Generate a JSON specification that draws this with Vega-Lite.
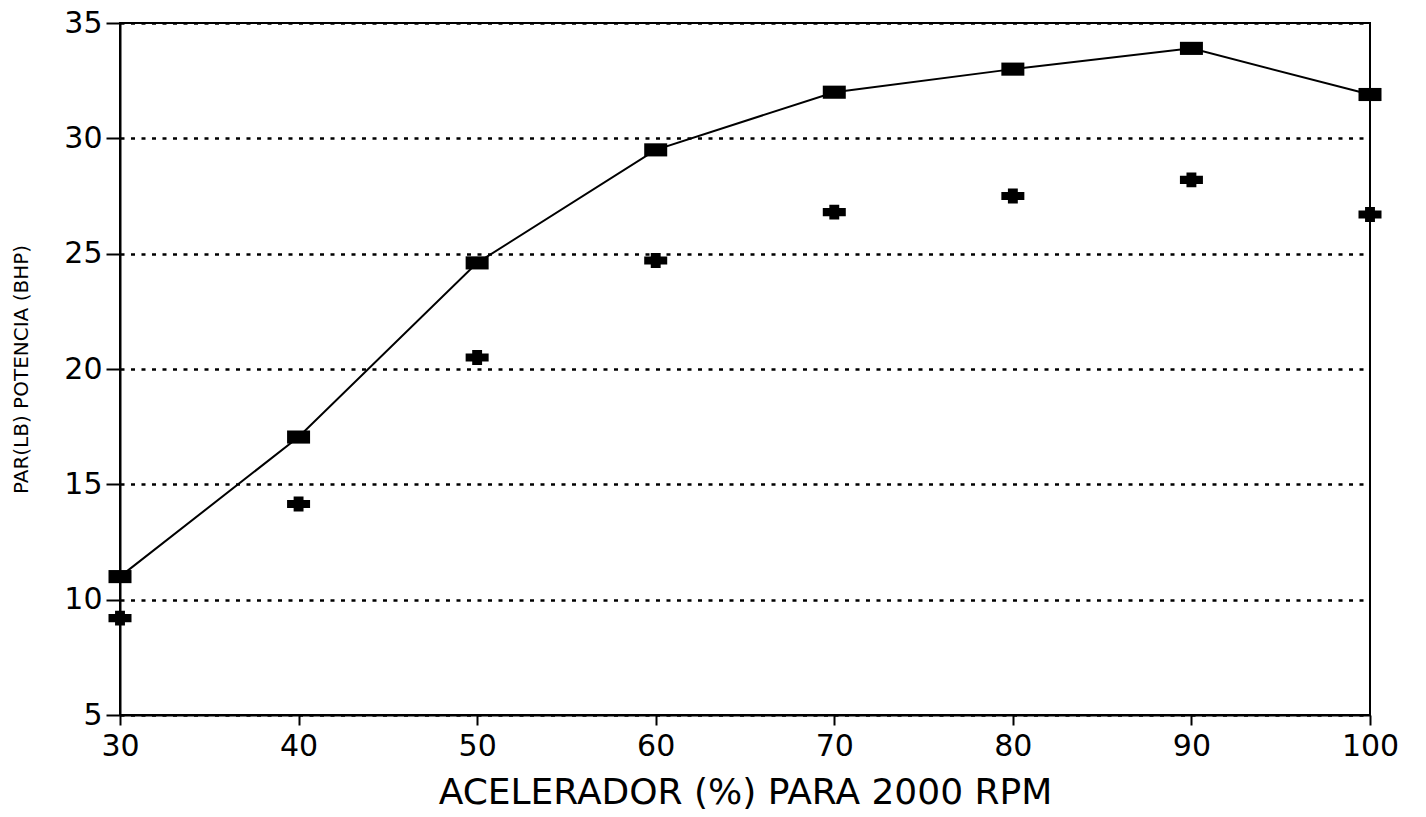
{
  "$schema": "https://vega.github.io/schema/vega-lite/v6.json",
  "autosize": "none",
  "width": 1250,
  "height": 692,
  "padding": {"left": 120, "top": 23, "right": 56, "bottom": 102},
  "background": "white",
  "config": {
    "view": {"stroke": "black", "strokeWidth": 2},
    "axis": {"labelFont": "DejaVu Sans", "titleFont": "DejaVu Sans", "labelColor": "black", "titleColor": "black", "domainColor": "black", "domainWidth": 2, "tickColor": "black", "tickWidth": 2, "titleFontWeight": "normal"}
  },
  "data": {"values": [
    {"acelerador": 30, "valor": 11.0, "serie": "PAR (LB)"},
    {"acelerador": 40, "valor": 17.05, "serie": "PAR (LB)"},
    {"acelerador": 50, "valor": 24.6, "serie": "PAR (LB)"},
    {"acelerador": 60, "valor": 29.5, "serie": "PAR (LB)"},
    {"acelerador": 70, "valor": 32.0, "serie": "PAR (LB)"},
    {"acelerador": 80, "valor": 33.0, "serie": "PAR (LB)"},
    {"acelerador": 90, "valor": 33.9, "serie": "PAR (LB)"},
    {"acelerador": 100, "valor": 31.9, "serie": "PAR (LB)"},
    {"acelerador": 30, "valor": 9.2, "serie": "POTENCIA (BHP)"},
    {"acelerador": 40, "valor": 14.15, "serie": "POTENCIA (BHP)"},
    {"acelerador": 50, "valor": 20.5, "serie": "POTENCIA (BHP)"},
    {"acelerador": 60, "valor": 24.7, "serie": "POTENCIA (BHP)"},
    {"acelerador": 70, "valor": 26.8, "serie": "POTENCIA (BHP)"},
    {"acelerador": 80, "valor": 27.5, "serie": "POTENCIA (BHP)"},
    {"acelerador": 90, "valor": 28.2, "serie": "POTENCIA (BHP)"},
    {"acelerador": 100, "valor": 26.7, "serie": "POTENCIA (BHP)"}
  ]},
  "encoding": {
    "x": {"field": "acelerador", "type": "quantitative",
      "scale": {"domain": [30, 100], "nice": false, "zero": false},
      "axis": {"values": [30, 40, 50, 60, 70, 80, 90, 100], "grid": false, "title": "ACELERADOR (%) PARA 2000 RPM",
        "labelFontSize": 30, "titleFontSize": 36, "tickSize": 10, "labelPadding": 6, "titlePadding": 14, "labelFlush": false}},
    "y": {"field": "valor", "type": "quantitative",
      "scale": {"domain": [5, 35], "nice": false, "zero": false},
      "axis": {"values": [5, 10, 15, 20, 25, 30, 35], "grid": true, "gridColor": "black", "gridWidth": 2.5, "gridDash": [4, 6.5],
        "title": "PAR(LB) POTENCIA (BHP)", "titleFontSize": 20, "labelFontSize": 30, "tickSize": 14, "labelPadding": 4, "titlePadding": 32, "labelFlush": false}}
  },
  "layer": [
    {"transform": [{"filter": "datum.serie == 'PAR (LB)'"}],
     "mark": {"type": "line", "color": "black", "strokeWidth": 2}},
    {"transform": [{"filter": "datum.serie == 'PAR (LB)'"}],
     "mark": {"type": "point", "shape": "M-1,-0.57H1V0.57H-1Z", "filled": true, "color": "black", "opacity": 1, "size": 529}},
    {"transform": [{"filter": "datum.serie == 'POTENCIA (BHP)'"}],
     "mark": {"type": "point", "shape": "M-1,-0.35H-0.43V-0.65H0.43V-0.35H1V0.35H0.43V0.65H-0.43V0.35H-1Z", "filled": true, "color": "black", "opacity": 1, "size": 529}}
  ]
}
